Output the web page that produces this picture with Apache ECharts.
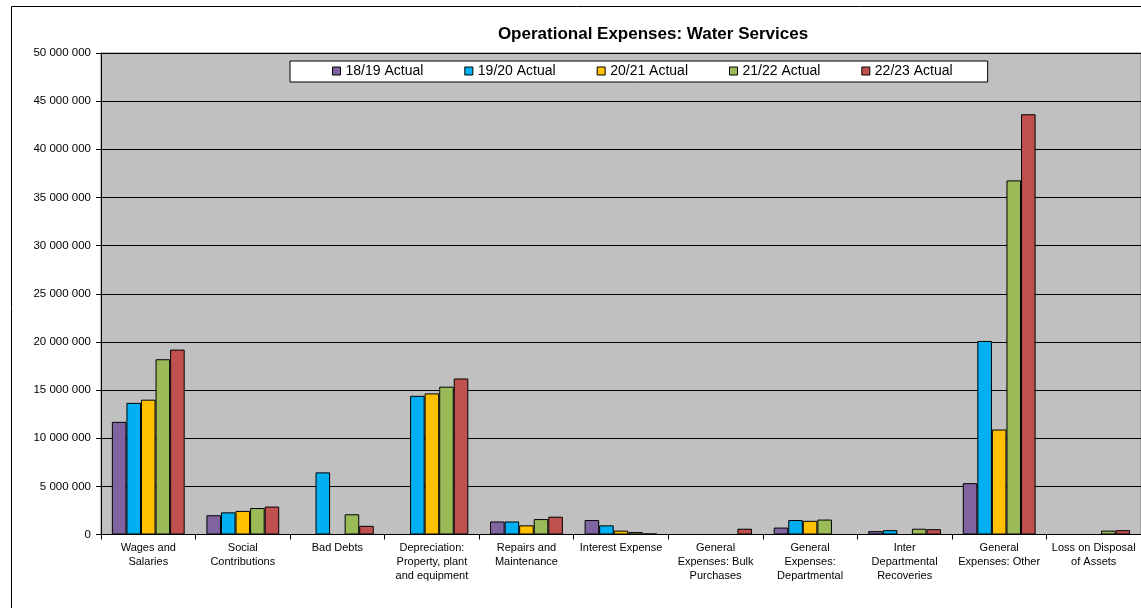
<!DOCTYPE html>
<html>
<head>
<meta charset="utf-8">
<script src="https://cdn.jsdelivr.net/npm/echarts@6/dist/echarts.min.js"></script>
<style>
  html, body { margin: 0; padding: 0; background: #fff; }
  #chart { width: 1141px; height: 608px; }
</style>
</head>
<body>
<div id="chart"></div>
<script>
// categories (x axis)
const categories = [
  "Wages and\nSalaries",
  "Social\nContributions",
  "Bad Debts",
  "Depreciation:\nProperty, plant\nand equipment",
  "Repairs and\nMaintenance",
  "Interest Expense",
  "General\nExpenses: Bulk\nPurchases",
  "General\nExpenses:\nDepartmental",
  "Inter\nDepartmental\nRecoveries",
  "General\nExpenses: Other",
  "Loss on Disposal\nof Assets"
];

// series values (null = no bar)
const actual1819 = [11700000, 2000000, null, null, 1350000, 1500000, null, 720000, 350000, 5330000, null];
const actual1920 = [13670000, 2300000, 6450000, 14400000, 1350000, 950000, null, 1500000, 450000, 20100000, null];
const actual2021 = [14000000, 2450000, null, 14650000, 950000, 400000, null, 1420000, null, 10900000, null];
const actual2122 = [18200000, 2750000, 2100000, 15350000, 1600000, 250000, null, 1550000, 600000, 36770000, 400000];
const actual2223 = [19200000, 2900000, 900000, 16200000, 1850000, 100000, 600000, null, 550000, 43640000, 450000];

const seriesNames = ["18/19 Actual", "19/20 Actual", "20/21 Actual", "21/22 Actual", "22/23 Actual"];
const seriesColors = ["#8064A2", "#00B0F0", "#FFC000", "#9BBB59", "#C0504D"];
const seriesData = [actual1819, actual1920, actual2021, actual2122, actual2223];

const fontFamily = "Arial, 'Liberation Sans', sans-serif";

// 50000000 -> "50 000 000"
function fmtSpaces(v) {
  return String(v).replace(/\B(?=(\d{3})+(?!\d))/g, " ");
}

const chart = echarts.init(document.getElementById("chart"));

chart.setOption({
  animation: false,
  textStyle: { fontFamily: fontFamily, color: "#000" },
  title: {
    text: "Operational Expenses: Water Services",
    left: 648,
    top: 21,
    textAlign: "center",
    textStyle: { fontSize: 17, fontWeight: "bold", color: "#000", fontFamily: fontFamily }
  },
  // outer chart border
  graphic: [
    {
      type: "rect",
      shape: { x: 11.5, y: 6.5, width: 1400, height: 800 },
      style: { fill: "none", stroke: "#000", lineWidth: 1 },
      silent: true,
      z: -10
    }
  ],
  legend: {
    data: seriesNames,
    left: 290,
    top: 61,
    padding: [3, 35, 4, 42],
    backgroundColor: "#fff",
    borderColor: "#000",
    borderWidth: 1,
    borderRadius: 0,
    icon: "rect",
    itemWidth: 8,
    itemHeight: 8,
    itemGap: 41,
    textStyle: { fontSize: 14, color: "#000", fontFamily: fontFamily },
    itemStyle: { borderColor: "#000", borderWidth: 1 }
  },
  grid: {
    left: 101,
    right: -4,
    top: 53,
    bottom: 73.5,
    show: true,
    backgroundColor: "#C0C0C0",
    borderColor: "#808080",
    borderWidth: 1
  },
  xAxis: {
    type: "category",
    data: categories,
    axisLine: { show: true, lineStyle: { color: "#000", width: 1 } },
    axisTick: { show: true, length: 5, lineStyle: { color: "#000" } },
    axisLabel: {
      interval: 0,
      margin: 6,
      fontSize: 11,
      lineHeight: 14,
      color: "#000",
      fontFamily: fontFamily
    },
    splitLine: { show: false }
  },
  yAxis: {
    type: "value",
    min: 0,
    max: 50000000,
    interval: 5000000,
    axisLine: { show: true, lineStyle: { color: "#000", width: 1 } },
    axisTick: { show: true, length: 5, lineStyle: { color: "#000" } },
    axisLabel: {
      margin: 10,
      fontSize: 11.5,
      color: "#000",
      fontFamily: fontFamily,
      formatter: fmtSpaces
    },
    splitLine: { show: true, lineStyle: { color: "#000", width: 1 } }
  },
  series: seriesNames.map(function (name, i) {
    return {
      name: name,
      type: "bar",
      data: seriesData[i],
      barGap: "0%",
      barCategoryGap: "23%",
      itemStyle: {
        color: seriesColors[i],
        borderColor: "#000",
        borderWidth: 1
      }
    };
  })
});
</script>
</body>
</html>
